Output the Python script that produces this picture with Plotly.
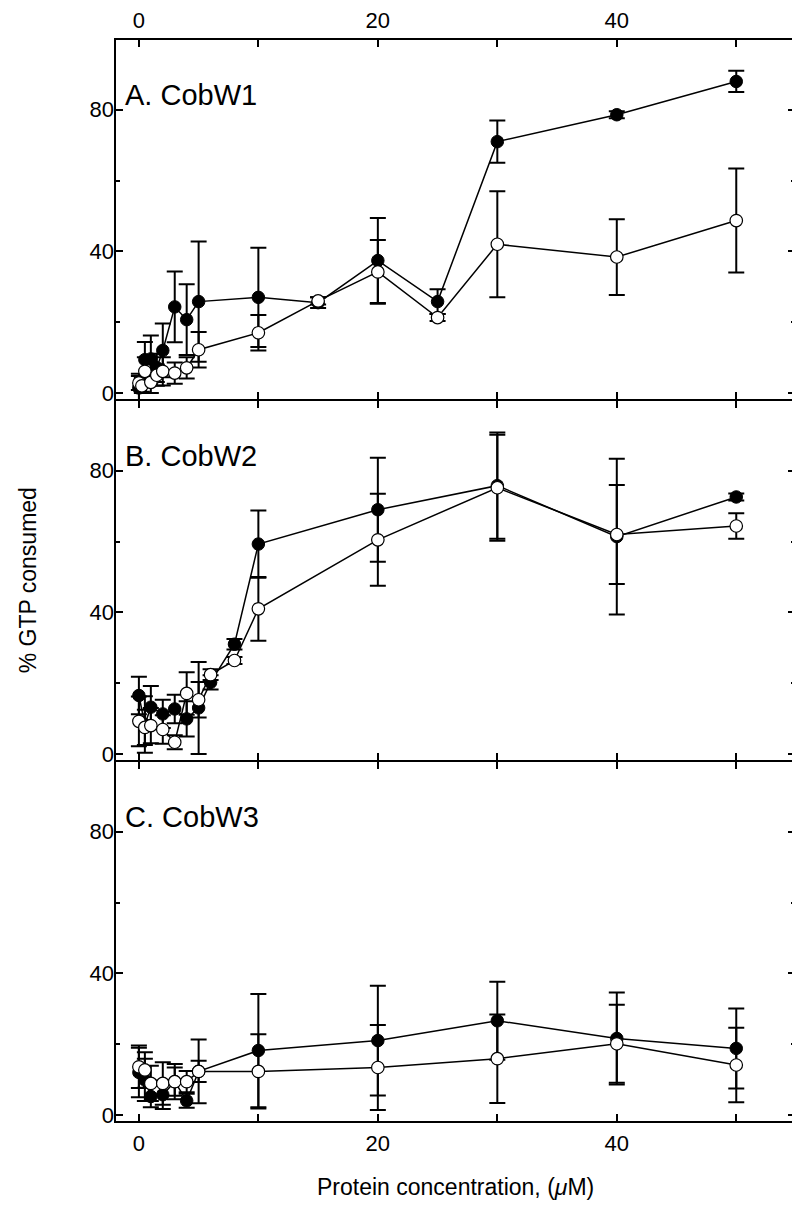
import plotly.graph_objects as go
from plotly.subplots import make_subplots

# ---------------- data ----------------
conc_A = [0, 0.25, 0.5, 1, 1.5, 2, 3, 4, 5, 10, 15, 20, 25, 30, 40, 50]
A_filled = [1.4, 2.3, 9.4, 9.6, 7.1, 12.0, 24.3, 20.7, 25.8, 27.0, 25.5, 37.4, 25.8, 71.0, 78.6, 88.0]
A_filled_err = [4, 2, 5, 6.6, 4, 7.6, 10, 10, 17, 14, 1.5, 12, 3.5, 6, 1, 3]
A_open = [2.8, 2.0, 6.1, 3.0, 5.0, 6.1, 5.6, 7.1, 12.2, 17.0, 26.0, 34.2, 21.3, 42.0, 38.4, 48.7]
A_open_err = [2, 2, 4, 3, 3, 4, 3, 3, 5, 5, 1, 9, 1, 15, 10.7, 14.7]

conc_B = [0, 0.5, 1, 2, 3, 4, 5, 6, 8, 10, 20, 30, 40, 50]
B_filled = [16.5, 8.3, 13.2, 11.3, 12.7, 9.9, 13.0, 20.2, 31.0, 59.3, 69.0, 75.8, 61.4, 72.6]
B_filled_err = [5.3, 8, 6, 4, 4, 5, 13, 2, 1.5, 9.5, 14.7, 15, 22, 1]
B_open = [9.2, 7.5, 8.0, 6.9, 3.3, 17.1, 15.3, 22.4, 26.4, 41.0, 60.5, 75.2, 62.0, 64.4]
B_open_err = [7, 5, 5, 4, 2, 6, 5, 1.5, 1, 9, 13, 15, 14, 3.6]

conc_C = [0, 0.5, 1, 2, 3, 4, 5, 10, 20, 30, 40, 50]
C_filled = [12.0, 9.9, 5.2, 5.7, 9.4, 4.0, 12.3, 18.2, 21.0, 26.6, 21.6, 18.8]
C_filled_err = [7, 6, 3, 4, 5, 2, 9, 16, 15.5, 11, 13, 11.3]
C_open = [13.6, 12.7, 8.9, 8.9, 9.4, 9.4, 12.3, 12.3, 13.4, 15.9, 20.1, 14.1]
C_open_err = [6, 5, 5, 6, 4, 3, 3, 10.5, 12, 12.5, 11, 10.5]

panel_labels = ["A. CobW1", "B. CobW2", "C. CobW3"]
x_ticks = [0, 10, 20, 30, 40, 50]
x_ticktext = ["0", "", "20", "", "40", ""]
y_ticks = [0, 40, 80]
y_minor = [20, 60]

FONT = "Liberation Sans, Arial, Helvetica, sans-serif"

fig = make_subplots(rows=3, cols=1, vertical_spacing=0)

panels = [
    (conc_A, A_filled, A_filled_err, A_open, A_open_err),
    (conc_B, B_filled, B_filled_err, B_open, B_open_err),
    (conc_C, C_filled, C_filled_err, C_open, C_open_err),
]

for i, (xs, yf, ef, yo, eo) in enumerate(panels, start=1):
    fig.add_trace(go.Scatter(
        x=xs, y=yf, mode="lines+markers",
        line=dict(color="black", width=1.5),
        marker=dict(size=12.5, color="black", line=dict(color="black", width=1)),
        error_y=dict(type="data", array=ef, visible=True, color="black", thickness=2, width=8),
        showlegend=False, cliponaxis=False), row=i, col=1)
    fig.add_trace(go.Scatter(
        x=xs, y=yo, mode="lines+markers",
        line=dict(color="black", width=1.5),
        marker=dict(size=12.5, color="white", line=dict(color="black", width=1.2)),
        error_y=dict(type="data", array=eo, visible=True, color="black", thickness=2, width=8),
        showlegend=False, cliponaxis=False), row=i, col=1)

for i in range(1, 4):
    fig.update_xaxes(
        range=[-2, 55], tickvals=x_ticks, ticktext=x_ticktext,
        ticks="inside", ticklen=8, tickwidth=1.5, tickcolor="black",
        showline=False, mirror="allticks", automargin=False,
        showgrid=False, zeroline=False,
        showticklabels=(i != 2),
        side="top" if i == 1 else "bottom",
        ticklabelstandoff=6,
        tickfont=dict(family=FONT, size=22, color="black"),
        row=i, col=1)
    fig.update_yaxes(
        range=[-2, 100], tickvals=y_ticks,
        ticks="inside", ticklen=8, tickwidth=1.5, tickcolor="black",
        minor=dict(tickvals=y_minor, ticks="inside", ticklen=5, tickwidth=1.5, tickcolor="black"),
        showline=False, mirror="allticks", automargin=False,
        showgrid=False, zeroline=False,
        tickfont=dict(family=FONT, size=22, color="black"),
        row=i, col=1)

for i, lab in enumerate(panel_labels, start=1):
    xref = "x domain" if i == 1 else f"x{i} domain"
    yref = "y domain" if i == 1 else f"y{i} domain"
    fig.add_shape(type="rect", xref=xref, yref=yref, x0=0, x1=1, y0=0, y1=1,
                  line=dict(color="black", width=2), fillcolor="rgba(0,0,0,0)", layer="above")
    fig.add_annotation(text=lab, x=0.012, y=0.845, xref=xref, yref=yref,
                       xanchor="left", yanchor="middle", showarrow=False,
                       font=dict(family=FONT, size=29, color="black"))

fig.add_annotation(text="% GTP consumed", x=-0.128, y=0.5, xref="paper", yref="paper",
                   textangle=-90, showarrow=False, xanchor="center", yanchor="middle",
                   font=dict(family=FONT, size=23, color="black"))
fig.add_annotation(text="Protein concentration, (<i>\u03bc</i>M)", x=0.5, y=-0.06,
                   xref="paper", yref="paper", showarrow=False,
                   xanchor="center", yanchor="middle",
                   font=dict(family=FONT, size=23, color="black"))

# the page body adds an 8 px offset, so the figure is 792x1200 with margins compensated
fig.update_layout(
    width=792, height=1200,
    margin=dict(l=107, r=4, t=31, b=86, autoexpand=False),
    paper_bgcolor="white", plot_bgcolor="white",
    font=dict(family=FONT, color="black"),
)

fig.write_html("out.html")
